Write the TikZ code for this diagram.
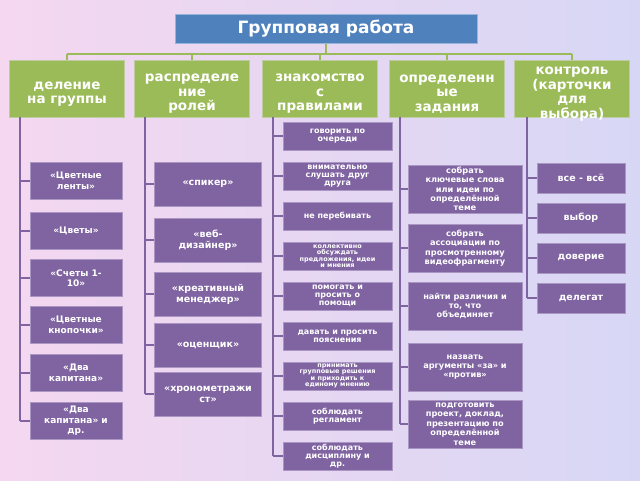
\documentclass[tikz,border=0pt]{standalone}
\usepackage{fontspec}
\setmainfont{DejaVu Sans}
\begin{document}
\begin{tikzpicture}[x=1pt,y=-1pt,
 hd/.style={fill={rgb,255:red,155;green,187;blue,89}, draw={rgb,255:red,190;green,205;blue,160}, text=white, font=\bfseries\fontsize{13.5}{14.5}\selectfont, align=center, inner sep=1pt},
 cb/.style={fill={rgb,255:red,128;green,100;blue,162}, draw={rgb,255:red,170;green,150;blue,195}, text=white, font=\bfseries\fontsize{8.5}{10}\selectfont, align=center, inner sep=1pt},
 gl/.style={draw={rgb,255:red,155;green,187;blue,89}, line width=1.5pt},
 pl/.style={draw={rgb,255:red,128;green,100;blue,162}, line width=1.5pt}]
\shade[left color={rgb,255:red,245;green,215;blue,240}, right color={rgb,255:red,215;green,215;blue,245}] (0,0) rectangle (640,480);
\useasboundingbox (0,0) rectangle (640,480);
\node[fill={rgb,255:red,79;green,129;blue,189}, draw={rgb,255:red,150;green,180;blue,215}, text=white, font=\bfseries\fontsize{17}{18}\selectfont, minimum width=302pt, minimum height=29pt] (t) at (326,29) {Групповая работа};
\coordinate (hl) at (326,54);
\foreach \n/\x/\tx in {h1/67/{деление\\на группы},h2/192/{распределе\\ние\\ролей},h3/320/{знакомство\\с\\правилами},h4/447/{определенн\\ые\\задания},h5/572/{контроль\\(карточки\\для\\выбора)}}{
 \node[hd, minimum width=115pt, minimum height=57pt] (\n) at (\x,88.5) {};
 \node[text=white, font=\bfseries\fontsize{13.5}{14.5}\selectfont, align=center] at (\x,94) {\tx};
 \draw[gl] (\n.north) -- (\x,54);
}
\draw[gl] (h1.north |- hl) -- (h5.north |- hl);
\draw[gl] (t.south) -- (hl);
% col1
\foreach \n/\y/\tx in {a1/181/{«Цветные\\ленты»},a2/231/{«Цветы»},a3/278/{«Счеты 1-\\10»},a4/325/{«Цветные\\кнопочки»},a5/373/{«Два\\капитана»},a6/421/{«Два\\капитана» и\\др.}}{
 \node[cb, minimum width=92pt, minimum height=37pt, font=\bfseries\fontsize{9}{10.5}\selectfont] (\n) at (76,\y) {\tx};
 \draw[pl] (\n.west) -- (20,\y);
}
\draw[pl] (20,117) -- (20,421);
% col2
\foreach \n/\y/\tx in {b1/184/{«спикер»},b2/240/{«веб-\\дизайнер»},b3/294/{«креативный\\менеджер»},b4/345/{«оценщик»},b5/394/{«хронометражи\\ст»}}{
 \node[cb, minimum width=107pt, minimum height=44pt, font=\bfseries\fontsize{9.5}{11}\selectfont] (\n) at (208,\y) {\tx};
 \draw[pl] (\n.west) -- (145,\y);
}
\draw[pl] (145,117) -- (145,394);
% col3
\foreach \n/\y/\tx/\fs in {c1/136/{говорить по\\очереди}/8,c2/176/{внимательно\\слушать друг\\друга}/8,c3/216/{не перебивать}/8,c4/256/{коллективно\\обсуждать\\предложения, идеи\\и мнения}/6.5,c5/296/{помогать и\\просить о\\помощи}/8,c6/336/{давать и просить\\пояснения}/8,c7/376/{принимать\\групповые решения\\и приходить к\\единому мнению}/6.5,c8/416/{соблюдать\\регламент}/8,c9/456/{соблюдать\\дисциплину и\\др.}/8}{
 \node[cb, minimum width=109pt, minimum height=28pt, font=\bfseries\fontsize{\fs}{\fs}\selectfont] (\n) at (337.5,\y) {\tx};
 \draw[pl] (\n.west) -- (273,\y);
}
\draw[pl] (273,117) -- (273,456);
% col4
\foreach \n/\y/\tx in {d1/189/{собрать\\ключевые слова\\или идеи по\\определённой\\теме},d2/248/{собрать\\ассоциации по\\просмотренному\\видеофрагменту},d3/306/{найти различия и\\то, что\\объединяет},d4/367/{назвать\\аргументы «за» и\\«против»},d5/424/{подготовить\\проект, доклад,\\презентацию по\\определённой\\теме}}{
 \node[cb, minimum width=114pt, minimum height=48pt, font=\bfseries\fontsize{8.2}{9.4}\selectfont] (\n) at (465,\y) {\tx};
 \draw[pl] (\n.west) -- (400,\y);
}
\draw[pl] (400,117) -- (400,424);
% col5
\foreach \n/\y/\tx in {e1/178/{все - всё},e2/218/{выбор},e3/258/{доверие},e4/298/{делегат}}{
 \node[cb, minimum width=88pt, minimum height=30pt, font=\bfseries\fontsize{9.5}{10}\selectfont] (\n) at (581,\y) {\tx};
 \draw[pl] (\n.west) -- (527,\y);
}
\draw[pl] (527,117) -- (527,298);
\end{tikzpicture}
\end{document}
